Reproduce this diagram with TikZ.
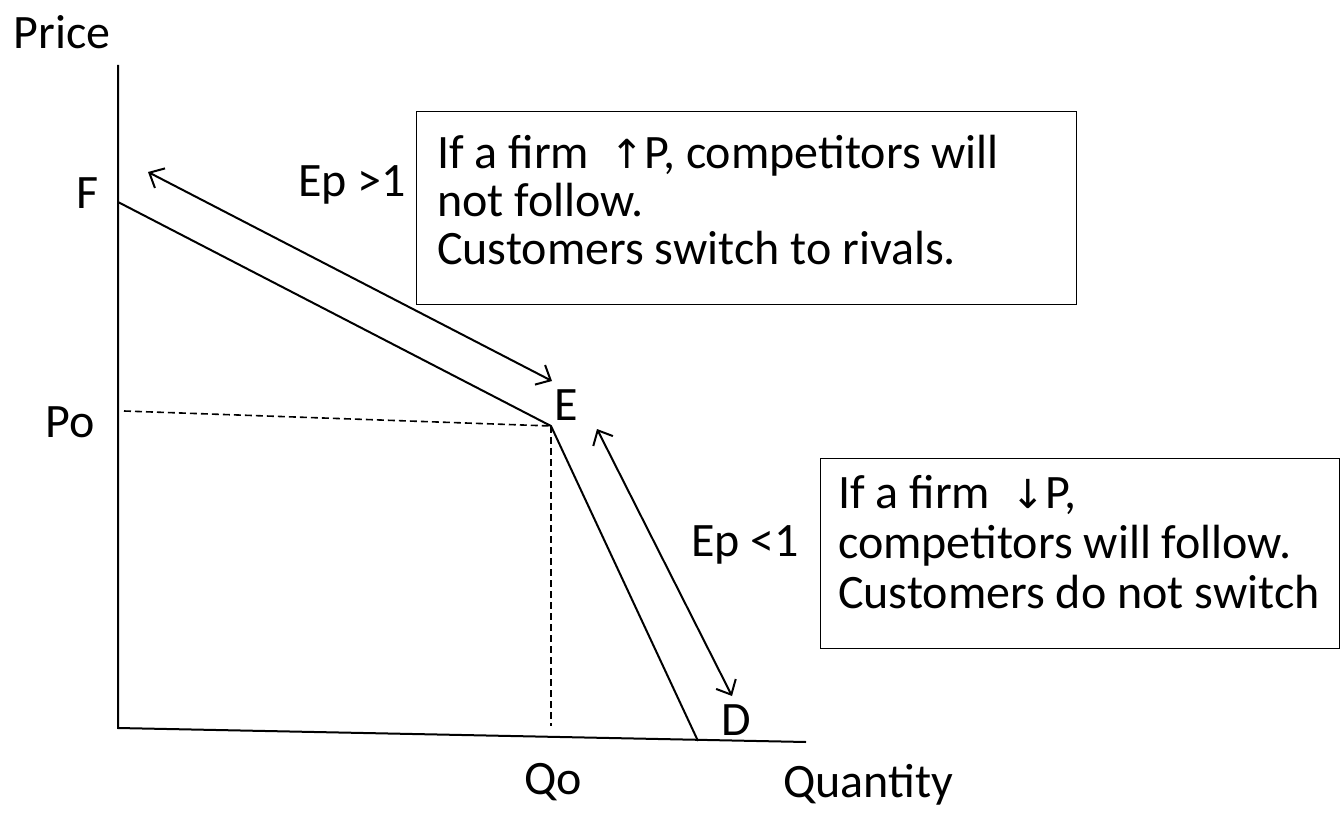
\documentclass[tikz,border=0pt]{standalone}
\usepackage{fontspec}
\setmainfont{Carlito}
\newfontfamily\symfont{DejaVu Sans}
\usetikzlibrary{arrows.meta}
\begin{document}
\begin{tikzpicture}[x=1pt,y=-1pt,
  lbl/.style={font=\fontsize{48}{56}\selectfont, inner sep=0pt},
  curve/.style={line width=2pt, line join=round},
  guide/.style={line width=1.6pt, dash pattern=on 7pt off 4pt},
  dbl/.style={line width=2pt, {Straight Barb[length=12pt,width=22pt,line width=2pt]}-{Straight Barb[length=12pt,width=22pt,line width=2pt]}},
  frame/.style={draw, line width=1.4pt, anchor=north west, inner sep=0pt},
  note/.style={anchor=base west, align=left, inner sep=0pt,
    font=\fontsize{48}{48}\selectfont}]
\useasboundingbox (0,0) rectangle (1340,813);

% axes
\coordinate (O) at (118,728);
\coordinate (ytop) at (118,65);
\coordinate (xend) at (806,742);
\draw[line width=2pt] (ytop) -- (O) -- (xend);

% kinked demand curve
\coordinate (F) at (118,202);
\coordinate (E) at (551,426);
\coordinate (D) at (698,741);
\draw[curve] (F) -- (E) -- (D);

% guide lines to the axes
\coordinate (Pax) at (124,411);
\coordinate (Qax) at (551,726);
\draw[guide] (Pax) -- (E);
\draw[guide] (E) -- (Qax);

% elasticity arrows
\coordinate (a1) at (148,172);
\coordinate (a2) at (552,381);
\draw[dbl] (a1) -- (a2);
\coordinate (b1) at (597,429);
\coordinate (b2) at (732,696);
\draw[dbl] (b1) -- (b2);

% labels
\node[lbl] (price) at (62,32) {Price};
\node[lbl, anchor=base] (quantity) at (868,797) {Quantity};
\node[lbl] (lF) at (88,193) {F};
\node[lbl] (lP) at (70,422) {Po};
\node[lbl] (lE) at (566,405) {E};
\node[lbl] (lD) at (736,720) {D};
\node[lbl] (lQ) at (553,782) {Qo};
\node[lbl] (ep1) at (352,185) {Ep >1};
\node[lbl] (ep2) at (745,545) {Ep <1};

% explanation boxes
\node[frame, minimum width=660pt, minimum height=193pt] (box1) at (416,111) {};
\node[note] (t1a) at (437,168) {If a firm \ {\symfont\fontsize{40}{48}\selectfont↑}P, competitors will};
\node[note] (t1b) at (437,216) {not follow.};
\node[note] (t1c) at (437,264) {Customers switch to rivals.};

\node[frame, minimum width=519pt, minimum height=190pt] (box2) at (820,458) {};
\node[note] (t2a) at (838,508) {If a firm \ {\symfont\fontsize{40}{48}\selectfont↓}P,};
\node[note] (t2b) at (838,558) {competitors will follow.};
\node[note] (t2c) at (838,608) {Customers do not switch};
\end{tikzpicture}
\end{document}
